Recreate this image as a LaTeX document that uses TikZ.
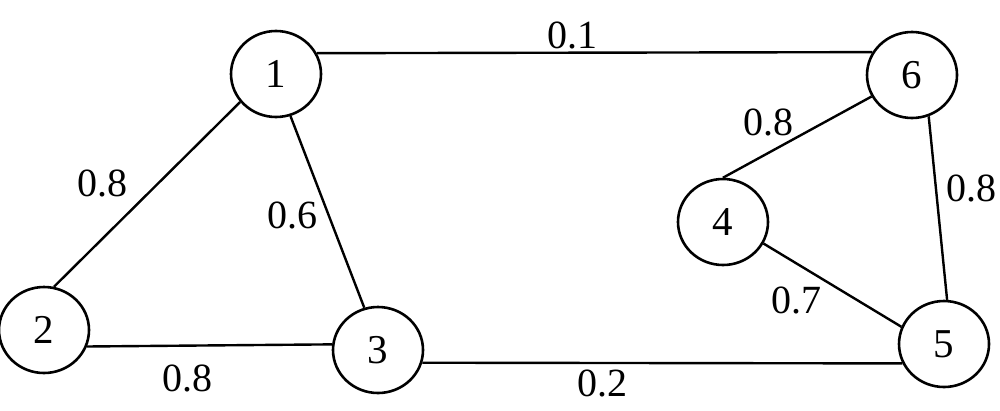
\documentclass[tikz,border=0pt]{standalone}
\usepackage{fontspec}
\setmainfont{Liberation Serif}
\usetikzlibrary{shapes.geometric}
\begin{document}
\begin{tikzpicture}[x=1pt,y=-1pt,
  vtx/.style={draw,ellipse,line width=2.6pt,minimum width=90pt,minimum height=86pt,inner sep=0pt,font=\fontsize{41}{44}\selectfont},
  edge/.style={line width=2.4pt},
  wt/.style={font=\fontsize{40}{44}\selectfont,inner sep=0pt}]
\useasboundingbox (0,0) rectangle (1000,410);
\node[vtx] (n1) at (276,74) {1};
\node[vtx] (n2) at (44,330) {2};
\node[vtx] (n3) at (378,350) {3};
\node[vtx] (n4) at (723,222) {4};
\node[vtx] (n5) at (944,344) {5};
\node[vtx] (n6) at (912,75) {6};
\draw[edge] (n1.27) -- (n6.150);
\draw[edge] (n1.218) -- (n2.77);
\draw[edge] (n1.289) -- (n3.108);
\draw[edge] (n2.-21) -- (n3.173);
\draw[edge] (n3.-16) -- (n5.205);
\draw[edge] (n6.208) -- (n4.90);
\draw[edge] (n6.292) -- (n5.86);
\draw[edge] (n4.332) -- (n5.158);
\node[wt] (w16) at (572,35) {0.1};
\node[wt] (w12) at (102,183) {0.8};
\node[wt] (w13) at (292,215) {0.6};
\node[wt] (w23) at (187,378) {0.8};
\node[wt] (w35) at (602,383) {0.2};
\node[wt] (w64) at (768,122) {0.8};
\node[wt] (w65) at (971,188) {0.8};
\node[wt] (w45) at (796,300) {0.7};
\end{tikzpicture}
\end{document}
